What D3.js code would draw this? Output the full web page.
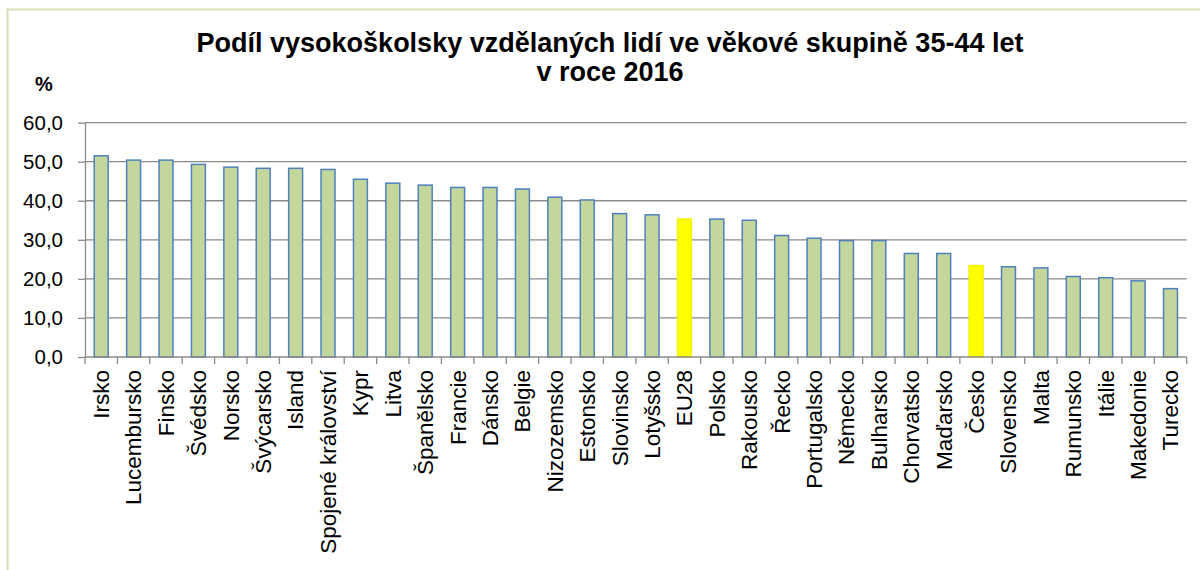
<!DOCTYPE html>
<html>
<head>
<meta charset="utf-8">
<script src="https://cdn.jsdelivr.net/npm/d3@7"></script>
<style>
  html, body { margin: 0; padding: 0; background: #fff; }
  svg { display: block; }
  text { font-family: Arial, "Liberation Sans", sans-serif; fill: #000; }
</style>
</head>
<body>
<svg id="chart" width="1200" height="570"></svg>
<script>
const titleLines = ["Podíl vysokoškolsky vzdělaných lidí ve věkové skupině 35-44 let", "v roce 2016"];
const unitLabel = "%";
const categories = ["Irsko","Lucembursko","Finsko","Švédsko","Norsko","Švýcarsko","Island","Spojené království","Kypr","Litva","Španělsko","Francie","Dánsko","Belgie","Nizozemsko","Estonsko","Slovinsko","Lotyšsko","EU28","Polsko","Rakousko","Řecko","Portugalsko","Německo","Bulharsko","Chorvatsko","Maďarsko","Česko","Slovensko","Malta","Rumunsko","Itálie","Makedonie","Turecko"];
const values = [51.5,50.4,50.4,49.3,48.6,48.3,48.3,48.0,45.5,44.5,44.0,43.4,43.4,43.0,40.9,40.2,36.7,36.4,35.3,35.3,35.0,31.1,30.4,29.8,29.8,26.5,26.5,23.4,23.1,22.8,20.6,20.3,19.5,17.5];
const highlighted = ["EU28","Česko"];
const yTicks = [0,10,20,30,40,50,60];

const svg = d3.select("#chart");
const m = {left: 85, right: 1186.7, top: 122.6, bottom: 357};

// frame
svg.append("rect").attr("x", 7.5).attr("y", 9.5).attr("width", 1250).attr("height", 600)
  .attr("fill", "#fff").attr("stroke", "#d4e1b4").attr("stroke-width", 2);

const x = d3.scaleBand().domain(categories).range([m.left, m.right]).paddingInner(0.57).paddingOuter(0.285);
const y = d3.scaleLinear().domain([0, 60]).range([m.bottom, m.top]);
const fmt = v => d3.format(".1f")(v).replace(".", ",");

// gridlines
svg.append("g").selectAll("line").data(yTicks.filter(d => d > 0)).join("line")
  .attr("x1", m.left).attr("x2", m.right)
  .attr("y1", d => y(d)).attr("y2", d => y(d))
  .attr("stroke", "#8a8a8a").attr("stroke-width", 1.3);

// y axis
const yAxis = svg.append("g").attr("transform", `translate(${m.left},0)`)
  .call(d3.axisLeft(y).tickValues(yTicks).tickFormat(fmt).tickSizeInner(7).tickSizeOuter(0).tickPadding(15));
yAxis.select(".domain").attr("stroke", "#8a8a8a").attr("stroke-width", 1.3);
yAxis.selectAll(".tick line").attr("stroke", "#8a8a8a").attr("stroke-width", 1.3);
yAxis.selectAll(".tick text").attr("font-size", 20.5).attr("font-family", "Arial, 'Liberation Sans', sans-serif").attr("fill", "#000");

// bars
svg.append("g").selectAll("rect").data(categories).join("rect")
  .attr("x", d => x(d)).attr("width", x.bandwidth())
  .attr("y", (d, i) => y(values[i])).attr("height", (d, i) => y(0) - y(values[i]))
  .attr("fill", d => highlighted.includes(d) ? "#ffff00" : "#c3d69b")
  .attr("stroke", d => highlighted.includes(d) ? "#f5f000" : "#4f81bd")
  .attr("stroke-width", 1.5);

// x axis
const boundaries = categories.map(c => x(c) - x.step() * x.paddingInner() / 2).concat([m.right]);
svg.append("line").attr("x1", m.left).attr("x2", m.right).attr("y1", m.bottom).attr("y2", m.bottom)
  .attr("stroke", "#8a8a8a").attr("stroke-width", 1.3);
svg.append("g").selectAll("line").data(boundaries).join("line")
  .attr("x1", d => d).attr("x2", d => d).attr("y1", m.bottom).attr("y2", m.bottom + 7)
  .attr("stroke", "#8a8a8a").attr("stroke-width", 1.3);

// category labels
svg.append("g").selectAll("text").data(categories).join("text")
  .attr("transform", d => `translate(${x(d) + x.bandwidth() / 2},370) rotate(-90)`)
  .attr("text-anchor", "end").attr("dy", "0.35em")
  .attr("font-size", 22.5)
  .text(d => d);

// title
svg.append("text").attr("x", 610).attr("y", 52).attr("text-anchor", "middle")
  .attr("font-size", 27).attr("font-weight", "bold").text(titleLines[0]);
svg.append("text").attr("x", 610).attr("y", 81).attr("text-anchor", "middle")
  .attr("font-size", 27).attr("font-weight", "bold").text(titleLines[1]);

// unit
svg.append("text").attr("x", 35).attr("y", 91).attr("font-size", 20).attr("font-weight", "bold").text(unitLabel);
</script>
</body>
</html>
